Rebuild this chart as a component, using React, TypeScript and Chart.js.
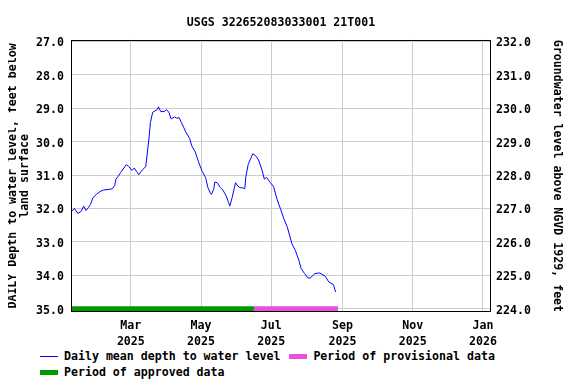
import React, { useEffect, useRef } from "react";
import { Chart, registerables } from "chart.js";

Chart.register(...registerables);

const TITLE = "USGS 322652083033001 21T001";
const LEFT_TITLE = ["DAILY Depth to water level, feet below", "land surface"];
const RIGHT_TITLE = "Groundwater level above NGVD 1929, feet";

// day of year 2025 (Jan 1 = 0)
const dayOfYear = [
  8, 10, 13, 16, 18, 20, 22, 24, 26, 29, 32, 35, 40, 43, 45, 46, 48, 50, 53, 55,
  57, 60, 62, 64, 66, 68, 72, 73, 75, 76, 78, 82, 83, 85, 88, 90, 92, 94, 97, 99,
  101, 103, 105, 107, 110, 112, 115, 118, 121, 124, 126, 128, 129, 131, 132, 134,
  137, 139, 142, 144, 145, 147, 149, 150, 152, 154, 156, 158, 159, 161, 164, 165,
  168, 170, 173, 175, 177, 180, 183, 186, 189, 192, 195, 199, 202, 205, 207, 210,
  213, 215, 219, 223, 228, 231, 235, 237,
];
const depthFeet = [
  32.08, 32.0, 32.15, 32.08, 31.93, 32.06, 31.98, 31.88, 31.68, 31.58, 31.5, 31.45,
  31.43, 31.41, 31.31, 31.13, 31.04, 30.93, 30.79, 30.69, 30.74, 30.86, 30.79, 30.89,
  30.99, 30.89, 30.74, 30.43, 29.83, 29.43, 29.12, 29.04, 28.96, 29.1, 29.1, 29.04,
  29.12, 29.32, 29.26, 29.3, 29.28, 29.43, 29.58, 29.73, 29.9, 30.13, 30.31, 30.62,
  30.89, 31.08, 31.38, 31.53, 31.58, 31.43, 31.21, 31.23, 31.38, 31.45, 31.63, 31.83,
  31.93, 31.68, 31.38, 31.23, 31.33, 31.38, 31.38, 31.41, 31.04, 30.68, 30.44, 30.36,
  30.44, 30.55, 30.85, 31.12, 31.07, 31.22, 31.34, 31.72, 32.01, 32.31, 32.56, 33.06,
  33.26, 33.55, 33.8, 33.95, 34.08, 34.08, 33.95, 33.93, 34.03, 34.2, 34.28, 34.5,
];

const approvedDays = [7, 166];
const provisionalDays = [166, 239];
const periodDepth = 35;

const xMinDay = 7;
const xMaxDay = 372;
const monthTickDays = [59, 120, 181, 243, 304, 365];
const monthTickLabels = [
  ["Mar", "2025"],
  ["May", "2025"],
  ["Jul", "2025"],
  ["Sep", "2025"],
  ["Nov", "2025"],
  ["Jan", "2026"],
];

const depthTicks = [27, 28, 29, 30, 31, 32, 33, 34, 35];
const elevTicks = [224, 225, 226, 227, 228, 229, 230, 231, 232];
const depthAxisMin = 26.955;
const depthAxisMax = 35.1;
const datumOffset = 259; // elevation = datumOffset - depth
const elevAxisMin = datumOffset - depthAxisMax;
const elevAxisMax = datumOffset - depthAxisMin;

const BLUE = "#0000ff";
const GREEN = "#009900";
const MAGENTA = "#ec4fdc";
const FONT = "'DejaVu Sans Mono', monospace";

const legendItems = [
  [
    { label: "Daily mean depth to water level", color: BLUE, thick: 1 },
    { label: "Period of provisional data", color: MAGENTA, thick: 5 },
  ],
  [{ label: "Period of approved data", color: GREEN, thick: 5 }],
];

const frame = {
  id: "frame",
  afterDatasetsDraw(chart: any) {
    const { ctx, chartArea } = chart;
    ctx.save();
    ctx.strokeStyle = "#000";
    ctx.lineWidth = 1;
    ctx.strokeRect(
      Math.round(chartArea.left) + 0.5,
      Math.round(chartArea.top) + 0.5,
      Math.round(chartArea.right - chartArea.left) - 1,
      Math.round(chartArea.bottom - chartArea.top) - 1
    );
    ctx.restore();
  },
};

export default function App() {
  const ref = useRef<HTMLCanvasElement | null>(null);

  useEffect(() => {
    if (!ref.current) return;
    const font = { family: FONT, size: 11.6, weight: "bold" as const, lineHeight: 1.38 };
    const chart = new Chart(ref.current, {
      type: "line",
      data: {
        datasets: [
          {
            label: "Daily mean depth to water level",
            data: dayOfYear.map((d, i) => ({ x: d, y: depthFeet[i] })),
            borderColor: BLUE,
            borderWidth: 1,
            pointRadius: 0,
            tension: 0,
            yAxisID: "y",
          },
          {
            label: "Period of approved data",
            data: approvedDays.map((d) => ({ x: d, y: periodDepth })),
            borderColor: GREEN,
            borderWidth: 5,
            pointRadius: 0,
            clip: 0,
            yAxisID: "y",
          },
          {
            label: "Period of provisional data",
            data: provisionalDays.map((d) => ({ x: d, y: periodDepth })),
            borderColor: MAGENTA,
            borderWidth: 5,
            pointRadius: 0,
            clip: 0,
            yAxisID: "y",
          },
        ],
      },
      options: {
        animation: false,
        responsive: true,
        maintainAspectRatio: false,
        layout: { padding: 0 },
        plugins: {
          legend: { display: false },
          tooltip: { enabled: false },
          title: {
            display: true,
            text: TITLE,
            fullSize: false,
            color: "#000",
            font: { family: FONT, size: 11.6, weight: "bold", lineHeight: 1.2 },
            padding: { top: 8, bottom: 10 },
          },
        },
        scales: {
          x: {
            type: "linear",
            min: xMinDay,
            max: xMaxDay,
            afterBuildTicks: (axis: any) => {
              axis.ticks = monthTickDays.map((v) => ({ value: v }));
            },
            afterFit: (scale: any) => {
              scale.height = 36;
            },
            ticks: {
              autoSkip: false,
              maxRotation: 0,
              color: "#000",
              font,
              padding: 6,
              callback: (v: any) => {
                const i = monthTickDays.indexOf(Number(v));
                return i >= 0 ? monthTickLabels[i] : "";
              },
            },
            grid: { color: "#cccccc", drawTicks: false },
            border: { display: false },
          },
          y: {
            type: "linear",
            position: "left",
            reverse: true,
            min: depthAxisMin,
            max: depthAxisMax,
            afterBuildTicks: (axis: any) => {
              axis.ticks = depthTicks.map((v) => ({ value: v }));
            },
            afterFit: (scale: any) => {
              scale.width = 63;
            },
            ticks: {
              color: "#000",
              font,
              padding: 7,
              labelOffset: 2,
              callback: (v: any) => Number(v).toFixed(1),
            },
            grid: { color: "#cccccc", drawTicks: false },
            border: { display: false },
            title: {
              display: true,
              text: LEFT_TITLE,
              color: "#000",
              font: { family: FONT, size: 11.6, weight: "bold", lineHeight: 1.05 },
              padding: { top: -1, bottom: 0 },
            },
          },
          y2: {
            type: "linear",
            position: "right",
            min: elevAxisMin,
            max: elevAxisMax,
            afterBuildTicks: (axis: any) => {
              axis.ticks = elevTicks.map((v) => ({ value: v }));
            },
            afterFit: (scale: any) => {
              scale.width = 77;
            },
            ticks: {
              color: "#000",
              font,
              padding: 5,
              labelOffset: 2,
              callback: (v: any) => Number(v).toFixed(1),
            },
            grid: { drawOnChartArea: false, drawTicks: false },
            border: { display: false },
            title: {
              display: true,
              text: RIGHT_TITLE,
              color: "#000",
              font: { family: FONT, size: 11.6, weight: "bold", lineHeight: 1.2 },
              padding: { top: 4, bottom: 0 },
            },
          },
        },
      },
      plugins: [frame],
    });
    return () => chart.destroy();
  }, []);

  return (
    <div style={{ width: 560, fontFamily: FONT }}>
      <div style={{ position: "relative", width: 560, height: 340 }}>
        <canvas ref={ref} />
      </div>
      <div style={{ paddingLeft: 32, fontSize: 11.6, fontWeight: "bold", color: "#000" }}>
        {legendItems.map((row, ri) => (
          <div key={ri} style={{ display: "flex", alignItems: "center", height: 16 }}>
            {row.map((it) => (
              <div key={it.label} style={{ display: "flex", alignItems: "center", marginRight: 9 }}>
                <span
                  style={{
                    display: "inline-block",
                    width: 18,
                    height: it.thick,
                    background: it.color,
                    marginRight: 6,
                  }}
                />
                <span style={{ whiteSpace: "pre" }}>{it.label}</span>
              </div>
            ))}
          </div>
        ))}
      </div>
    </div>
  );
}
